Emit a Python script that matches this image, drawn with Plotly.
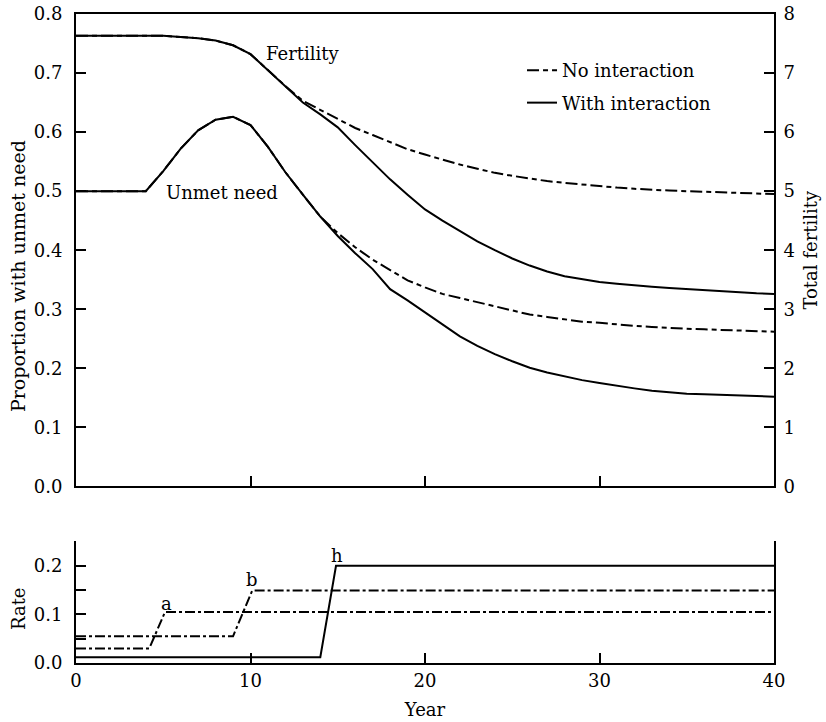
import plotly.graph_objects as go

# ---------------- data ----------------
YEARS = list(range(0, 41))

FERT_NO_INTERACTION = [7.63, 7.63, 7.63, 7.63, 7.63, 7.63, 7.61, 7.59, 7.55, 7.47,
                       7.32, 7.05, 6.78, 6.53, 6.38, 6.22, 6.07, 5.95, 5.83, 5.71,
                       5.62, 5.53, 5.45, 5.38, 5.31, 5.26, 5.21, 5.17, 5.14, 5.11,
                       5.08, 5.06, 5.04, 5.02, 5.01, 5.00, 4.99, 4.98, 4.97, 4.96, 4.95]
FERT_WITH_INTERACTION = [7.63, 7.63, 7.63, 7.63, 7.63, 7.63, 7.61, 7.59, 7.55, 7.47,
                         7.32, 7.05, 6.78, 6.50, 6.30, 6.08, 5.78, 5.49, 5.20, 4.94,
                         4.69, 4.50, 4.33, 4.15, 4.00, 3.86, 3.74, 3.64, 3.56, 3.51,
                         3.46, 3.43, 3.40, 3.38, 3.36, 3.34, 3.32, 3.30, 3.29, 3.27, 3.26]
UNMET_NO_INTERACTION = [0.500, 0.500, 0.500, 0.500, 0.500, 0.534, 0.572, 0.603, 0.621, 0.626,
                        0.612, 0.575, 0.532, 0.494, 0.457, 0.429, 0.405, 0.384, 0.366, 0.349,
                        0.337, 0.326, 0.319, 0.312, 0.306, 0.299, 0.291, 0.287, 0.283, 0.279,
                        0.277, 0.274, 0.272, 0.270, 0.268, 0.267, 0.266, 0.265, 0.264, 0.263, 0.262]
UNMET_WITH_INTERACTION = [0.500, 0.500, 0.500, 0.500, 0.500, 0.534, 0.572, 0.603, 0.621, 0.626,
                          0.612, 0.575, 0.532, 0.494, 0.457, 0.424, 0.395, 0.368, 0.334, 0.315,
                          0.295, 0.274, 0.254, 0.238, 0.224, 0.212, 0.201, 0.193, 0.186, 0.180,
                          0.175, 0.170, 0.166, 0.162, 0.159, 0.157, 0.156, 0.155, 0.154, 0.153, 0.152]

RATE_A_YEARS = [0, 4.2, 5.1, 40]
RATE_A = [0.030, 0.030, 0.105, 0.105]
RATE_B_YEARS = [0, 9.0, 10.1, 40]
RATE_B = [0.055, 0.055, 0.149, 0.149]
RATE_H_YEARS = [0, 14.0, 14.9, 40]
RATE_H = [0.012, 0.012, 0.200, 0.200]

LEFT_TICKS = [0.0, 0.1, 0.2, 0.3, 0.4, 0.5, 0.6, 0.7, 0.8]
RIGHT_TICKS = [0, 1, 2, 3, 4, 5, 6, 7, 8]
YEAR_TICKS = [0, 10, 20, 30, 40]
RATE_TICKS = [0.0, 0.1, 0.2]

# ---------------- styling ----------------
FONT = "DejaVu Serif"
FS = 18
BLACK = "black"
LW = 2
DASH_TOP = "12px,4px,5px,4px"
DASH_BOTTOM = "10px,3px,3px,3px"

fig = go.Figure()

fig.add_trace(go.Scatter(x=YEARS, y=FERT_NO_INTERACTION, yaxis="y2", xaxis="x",
                         mode="lines", name="No interaction", legendgroup="g1",
                         line=dict(color=BLACK, width=LW, dash=DASH_TOP)))
fig.add_trace(go.Scatter(x=YEARS, y=FERT_WITH_INTERACTION, yaxis="y2", xaxis="x",
                         mode="lines", name="With interaction", legendgroup="g2",
                         line=dict(color=BLACK, width=LW)))
fig.add_trace(go.Scatter(x=YEARS, y=UNMET_NO_INTERACTION, yaxis="y", xaxis="x",
                         mode="lines", showlegend=False,
                         line=dict(color=BLACK, width=LW, dash=DASH_TOP)))
fig.add_trace(go.Scatter(x=YEARS, y=UNMET_WITH_INTERACTION, yaxis="y", xaxis="x",
                         mode="lines", showlegend=False,
                         line=dict(color=BLACK, width=LW)))

fig.add_trace(go.Scatter(x=RATE_A_YEARS, y=RATE_A, xaxis="x2", yaxis="y3",
                         mode="lines", showlegend=False,
                         line=dict(color=BLACK, width=LW, dash=DASH_BOTTOM)))
fig.add_trace(go.Scatter(x=RATE_B_YEARS, y=RATE_B, xaxis="x2", yaxis="y3",
                         mode="lines", showlegend=False,
                         line=dict(color=BLACK, width=LW, dash=DASH_BOTTOM)))
fig.add_trace(go.Scatter(x=RATE_H_YEARS, y=RATE_H, xaxis="x2", yaxis="y3",
                         mode="lines", showlegend=False,
                         line=dict(color=BLACK, width=LW)))

axis_common = dict(showline=True, linecolor=BLACK, linewidth=LW, ticks="inside",
                   ticklen=10, tickwidth=LW, tickcolor=BLACK, showgrid=False,
                   zeroline=False, automargin=False, ticklabeloverflow="allow",
                   tickfont=dict(family=FONT, size=FS, color=BLACK))

TOP_DOMAIN = [0.2721, 1.0]
BOTTOM_DOMAIN = [0.0, 0.1874]

fig.update_layout(
    width=826, height=722,
    margin=dict(l=76, r=52, t=14, b=59, autoexpand=False),
    paper_bgcolor="white", plot_bgcolor="white",
    font=dict(family=FONT, size=FS, color=BLACK),
    xaxis=dict(axis_common, domain=[0, 1], anchor="y", range=[0, 40],
               tickvals=YEAR_TICKS, showticklabels=False, mirror=True),
    yaxis=dict(axis_common, domain=TOP_DOMAIN, anchor="x", range=[0, 0.8],
               tickvals=LEFT_TICKS, tickformat=".1f", ticklabelstandoff=8),
    yaxis2=dict(axis_common, overlaying="y", side="right", anchor="x",
                range=[0, 8], tickvals=RIGHT_TICKS, ticklabelstandoff=4,
                title=dict(text="Total fertility", standoff=10,
                           font=dict(family=FONT, size=FS, color=BLACK))),
    xaxis2=dict(axis_common, domain=[0, 1], anchor="y3", range=[0, 40],
                tickvals=YEAR_TICKS, ticklabelstandoff=0,
                title=dict(text="Year", standoff=14,
                           font=dict(family=FONT, size=FS, color=BLACK))),
    yaxis3=dict(axis_common, domain=BOTTOM_DOMAIN, anchor="x2", range=[0, 0.2502],
                tickvals=RATE_TICKS, tickformat=".1f", mirror=True, ticklabelstandoff=8,
                minor=dict(dtick=0.05, ticks="inside", ticklen=10, tickwidth=LW,
                           tickcolor=BLACK)),
    showlegend=True,
    legend=dict(x=0.639, y=0.9414, xanchor="left", yanchor="top",
                bgcolor="rgba(0,0,0,0)", tracegroupgap=6,
                font=dict(family=FONT, size=FS, color=BLACK)),
)

annotations = [
    dict(text="Proportion with unmet need", xref="paper", yref="paper",
         x=-0.083, y=0.5963, textangle=-90, showarrow=False,
         xanchor="center", yanchor="middle",
         font=dict(family=FONT, size=19, color=BLACK)),
    dict(text="Rate", xref="paper", yref="paper", x=-0.083, y=0.0832,
         textangle=-90, showarrow=False, xanchor="center", yanchor="middle"),
    dict(text="Fertility", xref="x", yref="y2", x=13.0, y=7.33, showarrow=False),
    dict(text="Unmet need", xref="x", yref="y", x=8.39, y=0.498, showarrow=False),
    dict(text="a", xref="x2", yref="y3", x=5.2, y=0.123, showarrow=False),
    dict(text="b", xref="x2", yref="y3", x=10.1, y=0.171, showarrow=False),
    dict(text="h", xref="x2", yref="y3", x=14.97, y=0.221, showarrow=False),
]
for a in annotations:
    if "font" not in a:
        a["font"] = dict(family=FONT, size=FS, color=BLACK)
fig.update_layout(annotations=annotations)

# remove the default 8px page margin so the 826x722 figure fills the window exactly
fig.write_html("out.html",
               config={"displayModeBar": False},
               post_script="document.body.style.margin='0';document.body.style.overflow='hidden';")
